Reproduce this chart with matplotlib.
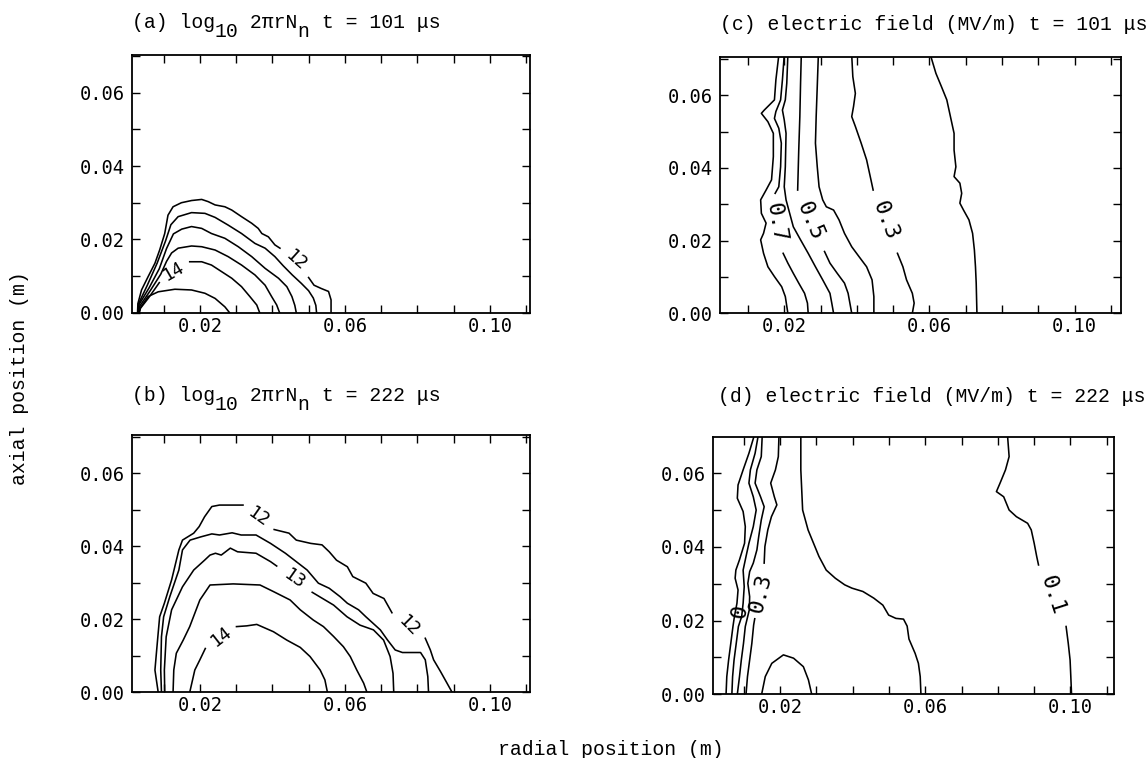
import numpy as np
import matplotlib.pyplot as plt
from matplotlib.ticker import MultipleLocator, FixedLocator, FormatStrFormatter

nan = np.nan

# ---- (a) log10 2*pi*r*Nn, t = 101 us : contour lines (r, z) in metres ----
a12_r = [0.0028, 0.0029, 0.0039, 0.0057, 0.0076, 0.0089, 0.0103, 0.0112, 0.0126, 0.0149, 0.0177,
         0.0205, 0.0223, 0.0242, 0.0269, 0.0288, 0.0315, 0.0343, 0.0361, 0.0371, 0.0389, 0.0407,
         0.0421, nan, 0.0500, 0.0515, 0.0535, 0.0555, 0.0562, 0.0562]
a12_z = [0.0, 0.0025, 0.0062, 0.0098, 0.0135, 0.0171, 0.0216, 0.0266, 0.0289, 0.0300, 0.0306,
         0.0309, 0.0303, 0.0294, 0.0289, 0.0280, 0.0262, 0.0244, 0.0230, 0.0216, 0.0207, 0.0185,
         0.0176, nan, 0.0096, 0.0075, 0.0066, 0.0058, 0.0035, 0.0]
a125_r = [0.0029, 0.0031, 0.0055, 0.0082, 0.0105, 0.0120, 0.0140, 0.0177, 0.0214, 0.0242, 0.0278,
          0.0315, 0.0352, 0.0380, 0.0407, 0.0430, 0.0455, 0.0480, 0.0500, 0.0513, 0.0520, 0.0522]
a125_z = [0.0, 0.0025, 0.0075, 0.0135, 0.0195, 0.0240, 0.0262, 0.0273, 0.0271, 0.0260, 0.0239,
          0.0216, 0.0189, 0.0176, 0.0153, 0.0128, 0.0103, 0.0080, 0.0060, 0.0040, 0.0020, 0.0]
a13_r = [0.0030, 0.0032, 0.0060, 0.0088, 0.0108, 0.0127, 0.0150, 0.0177, 0.0205, 0.0232, 0.0269,
         0.0306, 0.0343, 0.0380, 0.0417, 0.0440, 0.0454, 0.0462, 0.0466]
a13_z = [0.0, 0.0022, 0.0068, 0.0120, 0.0175, 0.0215, 0.0228, 0.0235, 0.0230, 0.0216, 0.0203,
         0.0180, 0.0153, 0.0121, 0.0094, 0.0071, 0.0044, 0.0020, 0.0]
a135_r = [0.0031, 0.0034, 0.0063, 0.0092, 0.0108, 0.0122, 0.0140, 0.0177, 0.0205, 0.0242, 0.0278,
          0.0315, 0.0352, 0.0380, 0.0398, 0.0412, 0.0420]
a135_z = [0.0, 0.0018, 0.0060, 0.0105, 0.0140, 0.0163, 0.0176, 0.0182, 0.0180, 0.0171, 0.0153,
          0.0130, 0.0103, 0.0075, 0.0044, 0.0021, 0.0]
a14_r = [0.0032, 0.0036, 0.0058, 0.0076, 0.0088, nan, 0.0172, 0.0205, 0.0232, 0.0260, 0.0288,
         0.0315, 0.0338, 0.0357, 0.0365]
a14_z = [0.0, 0.0012, 0.0040, 0.0065, 0.0082, nan, 0.0139, 0.0139, 0.0130, 0.0112, 0.0094,
         0.0071, 0.0044, 0.0021, 0.0]
a145_r = [0.0033, 0.0036, 0.0057, 0.0085, 0.0131, 0.0177, 0.0214, 0.0242, 0.0269, 0.0282]
a145_z = [0.0, 0.0014, 0.0044, 0.0057, 0.0064, 0.0062, 0.0053, 0.0039, 0.0016, 0.0]

# ---- (b) log10 2*pi*r*Nn, t = 222 us ----
b12_r = [0.0085, 0.0076, 0.0080, 0.0084, 0.0089, 0.0102, 0.0122, 0.0142, 0.0152, 0.0183, 0.0198,
         0.0213, 0.0233, 0.0254, 0.0319, nan, 0.0405, 0.0446, 0.0466, 0.0506, 0.0537, 0.0557,
         0.0577, 0.0607, 0.0622, 0.0658, 0.0678, 0.0708, 0.0730, nan, 0.0822, 0.0836, 0.0845,
         0.0864, 0.0882, 0.0896]
b12_z = [0.0, 0.0061, 0.0107, 0.0152, 0.0207, 0.0244, 0.0308, 0.0390, 0.0417, 0.0436, 0.0454,
         0.0481, 0.0509, 0.0513, 0.0513, nan, 0.0446, 0.0436, 0.0417, 0.0408, 0.0404, 0.0385,
         0.0362, 0.0344, 0.0317, 0.0299, 0.0271, 0.0257, 0.0218, nan, 0.0148, 0.0116, 0.0089,
         0.0057, 0.0025, 0.0]
b125_r = [0.0094, 0.0092, 0.0094, 0.0100, 0.0117, 0.0142, 0.0152, 0.0173, 0.0203, 0.0233, 0.0254,
          0.0289, 0.0314, 0.0355, 0.0395, 0.0436, 0.0466, 0.0496, 0.0527, 0.0557, 0.0587, 0.0607,
          0.0638, 0.0658, 0.0698, 0.0718, 0.0739, 0.0759, 0.0809, 0.0822, 0.0829, 0.0831]
b125_z = [0.0, 0.0061, 0.0152, 0.0207, 0.0262, 0.0335, 0.0390, 0.0417, 0.0426, 0.0434, 0.0431,
          0.0437, 0.0431, 0.0431, 0.0408, 0.0381, 0.0358, 0.0335, 0.0299, 0.0285, 0.0262, 0.0244,
          0.0226, 0.0207, 0.0171, 0.0143, 0.0116, 0.0109, 0.0109, 0.0089, 0.0043, 0.0]
b13_r = [0.0103, 0.0102, 0.0107, 0.0122, 0.0152, 0.0183, 0.0213, 0.0228, 0.0243, 0.0259, 0.0284,
         0.0304, 0.0355, 0.0395, 0.0412, nan, 0.0510, 0.0569, 0.0606, 0.0642, 0.0679, 0.0707,
         0.0725, 0.0733, 0.0735]
b13_z = [0.0, 0.0061, 0.0152, 0.0226, 0.0289, 0.0335, 0.0362, 0.0376, 0.0381, 0.0376, 0.0395,
         0.0385, 0.0381, 0.0358, 0.0346, nan, 0.0274, 0.0239, 0.0207, 0.0184, 0.0171, 0.0143,
         0.0098, 0.0052, 0.0]
b135_r = [0.0126, 0.0128, 0.0135, 0.0154, 0.0172, 0.0200, 0.0228, 0.0292, 0.0366, 0.0403, 0.0449,
          0.0477, 0.0513, 0.0541, 0.0569, 0.0596, 0.0615, 0.0633, 0.0652, 0.0661]
b135_z = [0.0, 0.0061, 0.0107, 0.0143, 0.0180, 0.0253, 0.0294, 0.0297, 0.0294, 0.0276, 0.0253,
          0.0226, 0.0198, 0.0180, 0.0153, 0.0125, 0.0098, 0.0061, 0.0025, 0.0]
b14_r = [0.0172, 0.0186, 0.0200, 0.0215, nan, 0.0301, 0.0329, 0.0357, 0.0403, 0.0440, 0.0477,
         0.0504, 0.0532, 0.0545, 0.0552]
b14_z = [0.0, 0.0061, 0.0089, 0.0120, nan, 0.0180, 0.0182, 0.0186, 0.0166, 0.0143, 0.0123,
         0.0098, 0.0061, 0.0034, 0.0]

# ---- (c) electric field (MV/m), t = 101 us ----
c08_r = [0.0185, 0.0177, 0.0173, 0.0145, 0.0137, 0.0155, 0.0170, 0.0170, 0.0165, 0.0150, 0.0135,
         0.0137, 0.0150, 0.0143, 0.0135, 0.0143, 0.0155, 0.0173, 0.0193, 0.0203, 0.0210]
c08_z = [0.0710, 0.0642, 0.0587, 0.0559, 0.0550, 0.0527, 0.0495, 0.0431, 0.0367, 0.0339, 0.0312,
         0.0275, 0.0248, 0.0220, 0.0202, 0.0165, 0.0128, 0.0101, 0.0073, 0.0046, 0.0]
c07_r = [0.0200, 0.0195, 0.0190, 0.0177, 0.0173, 0.0185, 0.0192, 0.0190, 0.0185, 0.0175, nan,
         0.0197, 0.0210, 0.0225, 0.0240, 0.0256, 0.0264, 0.0266]
c07_z = [0.0710, 0.0642, 0.0587, 0.0555, 0.0536, 0.0509, 0.0468, 0.0403, 0.0348, 0.0330, nan,
         0.0165, 0.0138, 0.0110, 0.0083, 0.0055, 0.0028, 0.0]
c06_r = [0.0210, 0.0207, 0.0203, 0.0195, 0.0200, 0.0205, 0.0203, 0.0200, 0.0205, 0.0215, 0.0225,
         0.0245, 0.0266, 0.0286, 0.0306, 0.0326, 0.0331, 0.0336]
c06_z = [0.0710, 0.0633, 0.0587, 0.0559, 0.0532, 0.0495, 0.0403, 0.0348, 0.0312, 0.0275, 0.0238,
         0.0202, 0.0165, 0.0128, 0.0092, 0.0055, 0.0028, 0.0]
c05_r = [0.0247, 0.0245, 0.0243, 0.0240, 0.0237, nan, 0.0311, 0.0326, 0.0346, 0.0366, 0.0376, 0.0386]
c05_z = [0.0710, 0.0633, 0.0541, 0.0449, 0.0339, nan, 0.0170, 0.0138, 0.0110, 0.0083, 0.0055, 0.0]
c04_r = [0.0294, 0.0291, 0.0288, 0.0286, 0.0291, 0.0296, 0.0306, 0.0316, 0.0336, 0.0351, 0.0366,
         0.0386, 0.0406, 0.0427, 0.0442, 0.0447, 0.0447]
c04_z = [0.0710, 0.0624, 0.0541, 0.0468, 0.0403, 0.0348, 0.0312, 0.0293, 0.0284, 0.0257, 0.0220,
         0.0183, 0.0156, 0.0128, 0.0092, 0.0046, 0.0]
c03_r = [0.0386, 0.0389, 0.0396, 0.0391, 0.0386, 0.0396, 0.0412, 0.0427, 0.0439, 0.0445, nan,
         0.0512, 0.0527, 0.0537, 0.0553, 0.0558, 0.0553]
c03_z = [0.0710, 0.0651, 0.0605, 0.0569, 0.0541, 0.0514, 0.0468, 0.0422, 0.0367, 0.0339, nan,
         0.0165, 0.0128, 0.0092, 0.0055, 0.0028, 0.0]
c02_r = [0.0603, 0.0618, 0.0633, 0.0648, 0.0658, 0.0668, 0.0668, 0.0673, 0.0668, 0.0684, 0.0689,
         0.0684, 0.0694, 0.0709, 0.0719, 0.0724, 0.0727, 0.0729, 0.0731]
c02_z = [0.0710, 0.0660, 0.0624, 0.0587, 0.0541, 0.0495, 0.0449, 0.0403, 0.0376, 0.0358, 0.0330,
         0.0303, 0.0284, 0.0257, 0.0220, 0.0174, 0.0128, 0.0083, 0.0]

# ---- (d) electric field (MV/m), t = 222 us ----
d01_r = [0.0826, 0.0831, 0.0821, 0.0806, 0.0796, 0.0816, 0.0831, 0.0851, 0.0882, 0.0892, 0.0900,
         0.0907, 0.0912, nan, 0.0988, 0.0994, 0.0999, 0.1001, 0.1003]
d01_z = [0.0710, 0.0645, 0.0609, 0.0573, 0.0550, 0.0536, 0.0500, 0.0482, 0.0464, 0.0446, 0.0410,
         0.0374, 0.0351, nan, 0.0184, 0.0138, 0.0093, 0.0048, 0.0]
d02_r = [0.0257, 0.0257, 0.0262, 0.0267, 0.0277, 0.0292, 0.0307, 0.0327, 0.0352, 0.0378, 0.0398,
         0.0428, 0.0458, 0.0483, 0.0499, 0.0519, 0.0540, 0.0550, 0.0555, 0.0572, 0.0581, 0.0586,
         0.0588]
d02_z = [0.0710, 0.0609, 0.0500, 0.0482, 0.0446, 0.0410, 0.0374, 0.0337, 0.0315, 0.0297, 0.0288,
         0.0279, 0.0261, 0.0242, 0.0215, 0.0206, 0.0204, 0.0185, 0.0150, 0.0111, 0.0084, 0.0048,
         0.0]
d_dome_r = [0.0149, 0.0159, 0.0177, 0.0209, 0.0237, 0.0264, 0.0278, 0.0287]
d_dome_z = [0.0, 0.0048, 0.0084, 0.0107, 0.0098, 0.0075, 0.0039, 0.0]
d1_r = [0.0131, 0.0114, 0.0098, 0.0084, 0.0082, 0.0098, 0.0104, 0.0102, 0.0088, 0.0078, 0.0076,
        0.0084, 0.0081, 0.0074, 0.0070, 0.0064, 0.0058, 0.0053, 0.0051]
d1_z = [0.0710, 0.0654, 0.0609, 0.0568, 0.0532, 0.0496, 0.0455, 0.0410, 0.0365, 0.0337, 0.0315,
        0.0283, 0.0247, 0.0211, 0.0184, 0.0138, 0.0093, 0.0048, 0.0]
d2_r = [0.0141, 0.0131, 0.0118, 0.0114, 0.0126, 0.0134, 0.0126, 0.0114, 0.0106, 0.0098, 0.0101,
        0.0098, 0.0094, 0.0085, 0.0079, 0.0073, 0.0069, 0.0067]
d2_z = [0.0710, 0.0654, 0.0609, 0.0573, 0.0536, 0.0500, 0.0455, 0.0410, 0.0374, 0.0337, 0.0292,
        0.0247, 0.0211, 0.0184, 0.0138, 0.0093, 0.0048, 0.0]
d3_r = [0.0151, 0.0148, 0.0136, 0.0131, 0.0146, 0.0156, 0.0148, 0.0141, 0.0136, 0.0126, 0.0116,
        0.0111, 0.0116, 0.0115, 0.0104, 0.0099, 0.0093, 0.0088, 0.0082]
d3_z = [0.0710, 0.0645, 0.0609, 0.0573, 0.0536, 0.0509, 0.0473, 0.0428, 0.0392, 0.0356, 0.0333,
        0.0301, 0.0265, 0.0229, 0.0184, 0.0138, 0.0093, 0.0048, 0.0]
d4_r = [0.0197, 0.0195, 0.0187, 0.0174, 0.0184, 0.0191, 0.0176, 0.0166, 0.0158, 0.0156, nan,
        0.0130, 0.0127, 0.0122, 0.0116, 0.0110, 0.0106]
d4_z = [0.0710, 0.0645, 0.0609, 0.0573, 0.0536, 0.0514, 0.0482, 0.0446, 0.0401, 0.0356, nan,
        0.0205, 0.0188, 0.0138, 0.0093, 0.0048, 0.0]

# contour labels: (text, r, z, rotation)
a_labels = [("12", 0.0465, 0.0142, -42), ("14", 0.0128, 0.0114, 30)]
b_labels = [("12", 0.0362, 0.0481, -35), ("13", 0.0462, 0.0310, -35),
            ("12", 0.0776, 0.0180, -45), ("14", 0.0258, 0.0152, 38)]
c_labels = [("0.7", 0.0176, 0.0250, -80), ("0.5", 0.0272, 0.0254, -67),
            ("0.3", 0.0478, 0.0255, -69)]
d_labels = [("0.1", 0.0949, 0.0270, -72), ("0.3", 0.0147, 0.0274, 76), ("0", 0.0090, 0.0224, 80)]

W, H = 1148, 758
title_font = 'Liberation Mono'
title_size = 14.2
adv = 0.6 * title_size * 100 / 72  # character advance in pixels

fig = plt.figure(figsize=(W / 100, H / 100), dpi=100)


def box(left, top, right, bottom):
    return [left / W, 1 - bottom / H, (right - left) / W, (bottom - top) / H]


def style(ax, xlim, ylim):
    ax.set_xlim(xlim)
    ax.set_ylim(ylim)
    ax.xaxis.set_major_locator(FixedLocator([0.02, 0.06, 0.10]))
    ax.xaxis.set_minor_locator(MultipleLocator(0.01))
    ax.yaxis.set_major_locator(MultipleLocator(0.02))
    ax.yaxis.set_minor_locator(MultipleLocator(0.01))
    ax.xaxis.set_major_formatter(FormatStrFormatter('%.2f'))
    ax.yaxis.set_major_formatter(FormatStrFormatter('%.2f'))
    ax.tick_params(which='both', direction='in', top=True, right=True,
                   length=5.5, width=1.0, labelsize=13.5)
    ax.tick_params(axis='x', pad=3)
    ax.tick_params(axis='y', pad=5)
    for lab in ax.get_xticklabels() + ax.get_yticklabels():
        lab.set_family('DejaVu Sans Mono')
    for sp in ax.spines.values():
        sp.set_linewidth(1.3)


def lines(ax, curves, labels, label_size):
    for r, z in curves:
        ax.plot(r, z, color='k', lw=1.15, solid_joinstyle='round')
    for txt, r, z, rot in labels:
        ax.text(r, z, txt, rotation=rot, ha='center', va='center', fontsize=label_size,
                family='DejaVu Sans Mono', rotation_mode='anchor')


ax_a = fig.add_axes(box(132, 55, 530, 312.7))
ax_b = fig.add_axes(box(132, 435, 530, 692.3))
ax_c = fig.add_axes(box(720, 57, 1121, 313.3))
ax_d = fig.add_axes(box(713, 436.7, 1114, 694.3))

lines(ax_a, [(a12_r, a12_z), (a125_r, a125_z), (a13_r, a13_z), (a135_r, a135_z),
             (a14_r, a14_z), (a145_r, a145_z)], a_labels, 13)
lines(ax_b, [(b12_r, b12_z), (b125_r, b125_z), (b13_r, b13_z), (b135_r, b135_z),
             (b14_r, b14_z)], b_labels, 13)
lines(ax_c, [(c08_r, c08_z), (c07_r, c07_z), (c06_r, c06_z), (c05_r, c05_z),
             (c04_r, c04_z), (c03_r, c03_z), (c02_r, c02_z)], c_labels, 16)
lines(ax_d, [(d1_r, d1_z), (d2_r, d2_z), (d3_r, d3_z), (d4_r, d4_z), (d02_r, d02_z),
             (d_dome_r, d_dome_z), (d01_r, d01_z)], d_labels, 16)

style(ax_a, (0.00127, 0.1111), (0, 0.0703))
style(ax_b, (0.00127, 0.1111), (0, 0.0705))
style(ax_c, (0.0023, 0.1128), (0, 0.0705))
style(ax_d, (0.0015, 0.1120), (0, 0.0699))


def title(x, y, pieces):
    # typewriter title: (column, text, dropped) pieces; subscripts are dropped below the line
    for col, s, dropped in pieces:
        fig.text((x + col * adv) / W, 1 - (y + (8.5 if dropped else 0)) / H, s,
                 family=title_font, fontsize=title_size, ha='left', va='baseline')


title(132, 28.5, [(0, "(a) log", False), (7, "10", True), (9, " 2\u03c0rN", False),
                  (14, "n", True), (15, " t = 101 \u03bcs", False)])
title(132, 401.5, [(0, "(b) log", False), (7, "10", True), (9, " 2\u03c0rN", False),
                   (14, "n", True), (15, " t = 222 \u03bcs", False)])
title(720, 29.5, [(0, "(c) electric field (MV/m) t = 101 \u03bcs", False)])
title(718, 402.5, [(0, "(d) electric field (MV/m) t = 222 \u03bcs", False)])

fig.text(20 / W, 1 - 378 / H, "axial position (m)", rotation=90, ha='center', va='center',
         family=title_font, fontsize=title_size)
fig.text(498 / W, 1 - 755 / H, "radial position (m)", ha='left', va='baseline',
         family=title_font, fontsize=title_size)

fig.savefig("out.png", dpi=100)
